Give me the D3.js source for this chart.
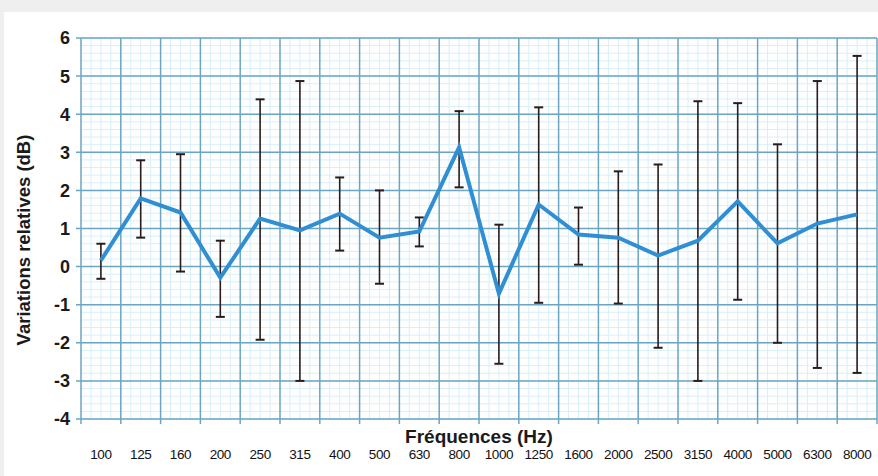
<!DOCTYPE html>
<html>
<head>
<meta charset="utf-8">
<script src="https://cdn.jsdelivr.net/npm/d3@7"></script>
<style>
  body { margin: 0; background: #efefef; }
  #chart-area { position: absolute; left: 4px; top: 12px; }
</style>
</head>
<body>
<div id="chart-area"></div>
<script>
const frequencies = ["100", "125", "160", "200", "250", "315", "400", "500", "630", "800",
    "1000", "1250", "1600", "2000", "2500", "3150", "4000", "5000", "6300", "8000"];
const meanValues = [0.16, 1.79, 1.42, -0.29, 1.26, 0.95, 1.39, 0.76, 0.92, 3.13,
    -0.71, 1.63, 0.84, 0.76, 0.29, 0.68, 1.71, 0.61, 1.13, 1.37];
const upperValues = [0.6, 2.79, 2.95, 0.68, 4.39, 4.87, 2.34, 2.0, 1.29, 4.08,
    1.1, 4.18, 1.55, 2.5, 2.68, 4.34, 4.29, 3.21, 4.87, 5.53];
const lowerValues = [-0.32, 0.76, -0.13, -1.32, -1.92, -3.0, 0.42, -0.45, 0.53, 2.08,
    -2.55, -0.95, 0.05, -0.97, -2.13, -3.0, -0.87, -2.0, -2.66, -2.79];
const yTicks = [-4, -3, -2, -1, 0, 1, 2, 3, 4, 5, 6];

const data = frequencies.map((f, i) => ({
    freq: f, mean: meanValues[i], hi: upperValues[i], lo: lowerValues[i]
}));

const width = 874;
const height = 464;
const margin = { left: 77, right: 1, top: 26, bottom: 57 };
const chartWidth = width - margin.left - margin.right;
const chartHeight = height - margin.top - margin.bottom;

const svg = d3.select('#chart-area')
    .append('svg')
    .attr('width', width)
    .attr('height', height)
    .style('background', '#ffffff');

const g = svg.append('g')
    .attr('transform', `translate(${margin.left}, ${margin.top})`);

const x = d3.scaleBand()
    .domain(frequencies)
    .range([0, chartWidth]);

const y = d3.scaleLinear()
    .domain([-4, 6])
    .range([chartHeight, 0]);

// minor grid (graph paper)
const minorY = d3.range(-4, 6.001, 0.2);
g.selectAll('.minor-h')
    .data(minorY)
    .enter()
    .append('line')
    .attr('x1', 0)
    .attr('x2', chartWidth)
    .attr('y1', d => y(d))
    .attr('y2', d => y(d))
    .attr('stroke', '#d9eff9')
    .attr('stroke-width', 1);

const minorX = [];
frequencies.forEach(f => {
    [0.25, 0.5, 0.75].forEach(t => minorX.push(x(f) + t * x.bandwidth()));
});
g.selectAll('.minor-v')
    .data(minorX)
    .enter()
    .append('line')
    .attr('x1', d => d)
    .attr('x2', d => d)
    .attr('y1', 0)
    .attr('y2', chartHeight)
    .attr('stroke', '#d9eff9')
    .attr('stroke-width', 1);

// major grid + ticks
g.selectAll('.major-h')
    .data(yTicks)
    .enter()
    .append('line')
    .attr('x1', -5)
    .attr('x2', chartWidth)
    .attr('y1', d => y(d))
    .attr('y2', d => y(d))
    .attr('stroke', '#6aa6c4')
    .attr('stroke-width', 1.5);

const majorX = frequencies.map(f => x(f)).concat([chartWidth]);
g.selectAll('.major-v')
    .data(majorX)
    .enter()
    .append('line')
    .attr('x1', d => d)
    .attr('x2', d => d)
    .attr('y1', 0)
    .attr('y2', chartHeight + 5)
    .attr('stroke', '#6aa6c4')
    .attr('stroke-width', 1.5);

// y tick labels
g.selectAll('.ylab')
    .data(yTicks)
    .enter()
    .append('text')
    .attr('x', -11)
    .attr('y', d => y(d))
    .attr('dy', '0.36em')
    .attr('text-anchor', 'end')
    .attr('font-family', 'Liberation Sans, Arial, sans-serif')
    .attr('font-weight', 'bold')
    .attr('font-size', '18px')
    .attr('fill', '#1a1a1a')
    .text(d => d);

// x tick labels
g.selectAll('.xlab')
    .data(frequencies)
    .enter()
    .append('text')
    .attr('x', d => x(d) + x.bandwidth() / 2)
    .attr('y', chartHeight + 40)
    .attr('text-anchor', 'middle')
    .attr('font-family', 'Liberation Sans, Arial, sans-serif')
    .attr('font-size', '13.5px')
    .attr('letter-spacing', '-0.4px')
    .attr('fill', '#111')
    .text(d => d);

// error bars
const cx = d => x(d.freq) + x.bandwidth() / 2;
g.selectAll('.err')
    .data(data)
    .enter()
    .append('line')
    .attr('x1', cx)
    .attr('x2', cx)
    .attr('y1', d => y(d.hi))
    .attr('y2', d => y(d.lo))
    .attr('stroke', '#2a1c1c')
    .attr('stroke-width', 1.6);

['hi', 'lo'].forEach(k => {
    g.selectAll('.cap-' + k)
        .data(data)
        .enter()
        .append('line')
        .attr('x1', d => cx(d) - 4.5)
        .attr('x2', d => cx(d) + 4.5)
        .attr('y1', d => y(d[k]))
        .attr('y2', d => y(d[k]))
        .attr('stroke', '#2a1c1c')
        .attr('stroke-width', 2);
});

// mean line
const line = d3.line()
    .x(cx)
    .y(d => y(d.mean));
g.append('path')
    .datum(data)
    .attr('d', line)
    .attr('fill', 'none')
    .attr('stroke', '#2f8fd2')
    .attr('stroke-width', 4)
    .attr('stroke-linejoin', 'miter');

// axis titles
g.append('text')
    .attr('x', 398)
    .attr('y', chartHeight + 24)
    .attr('text-anchor', 'middle')
    .attr('font-family', 'Liberation Sans, Arial, sans-serif')
    .attr('font-weight', 'bold')
    .attr('font-size', '19px')
    .attr('fill', '#1a1a1a')
    .text('Fréquences (Hz)');

svg.append('text')
    .attr('transform', `translate(20, ${margin.top + 202}) rotate(-90)`)
    .attr('dy', '0.35em')
    .attr('text-anchor', 'middle')
    .attr('font-family', 'Liberation Sans, Arial, sans-serif')
    .attr('font-weight', 'bold')
    .attr('font-size', '18.5px')
    .attr('fill', '#1a1a1a')
    .text('Variations relatives (dB)');
</script>
</body>
</html>
